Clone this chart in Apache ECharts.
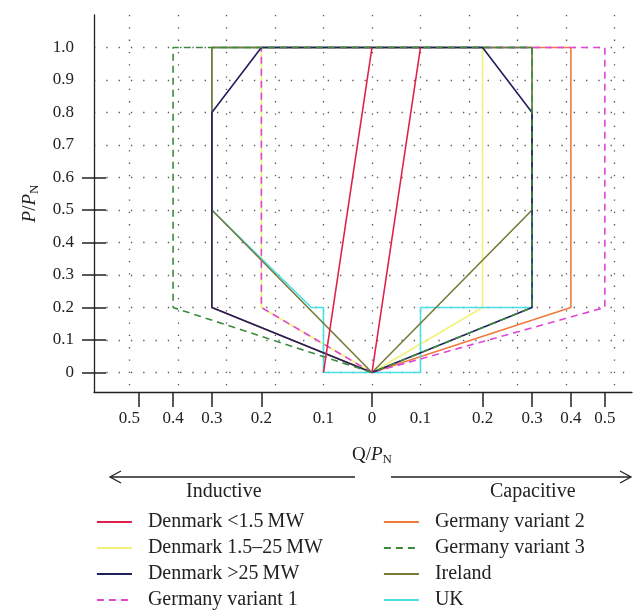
<!DOCTYPE html>
<html>
<head>
<meta charset="utf-8">
<script src="https://cdn.jsdelivr.net/npm/echarts@6/dist/echarts.min.js"></script>
<style>
  html, body { margin: 0; padding: 0; background: #fff; }
  #chart { width: 634px; height: 612px; }
</style>
</head>
<body>
<div id="chart"></div>
<script>
// points are [Q/PN, P/PN]; negative Q = inductive side
const denmarkSmall = [[-0.1, 0], [0, 1.0], ['-', '-'], [0, 0], [0.1, 1.0]];
const denmarkMid = [[0, 0], [-0.228, 0.2], [-0.228, 1.0], [0.228, 1.0], [0.228, 0.2], [0, 0]];
const denmarkLarge = [[0, 0], [-0.33, 0.2], [-0.33, 0.8], [-0.228, 1.0], [0.228, 1.0], [0.33, 0.8], [0.33, 0.2], [0, 0]];
const germany1 = [[0, 0], [-0.228, 0.2], [-0.228, 1.0], [0.48, 1.0], [0.48, 0.2], [0, 0]];
const germany2 = [[0, 0], [-0.33, 0.2], [-0.33, 1.0], [0.41, 1.0], [0.41, 0.2], [0, 0]];
const germany3 = [[0, 0], [-0.41, 0.2], [-0.41, 1.0], [0.33, 1.0], [0.33, 0.2], [0, 0]];
const ireland = [[0, 0], [-0.33, 0.5], [-0.33, 1.0], [0.33, 1.0], [0.33, 0.5], [0, 0]];
const uk = [[-0.33, 1.0], [-0.33, 0.5], [-0.125, 0.2], [-0.1, 0.2], [-0.1, 0], [0.1, 0],
  [0.1, 0.2], [0.33, 0.2], [0.33, 1.0], [-0.33, 1.0]];

// x tick labels sit at the curve corners, not evenly
const xLabelPos = [-0.5, -0.41, -0.33, -0.228, -0.1, 0, 0.1, 0.228, 0.33, 0.41, 0.48];
const xLabelText = ['0.5', '0.4', '0.3', '0.2', '0.1', '0', '0.1', '0.2', '0.3', '0.4', '0.5'];
const xTickPos = [-0.48, -0.41, -0.33, -0.228, 0, 0.228, 0.33, 0.41, 0.48];
const yLabelPos = [0, 0.1, 0.2, 0.3, 0.4, 0.5, 0.6, 0.7, 0.8, 0.9, 1.0];
const yTickPos = [0, 0.1, 0.2, 0.3, 0.4, 0.5, 0.6];

const serif = "'Liberation Serif', 'DejaVu Serif', serif";
const ink = '#222';

const dotted = {
  show: true,
  showMinLine: false,
  showMaxLine: false,
  lineStyle: { color: '#555', width: 1.3, type: [1.3, 11] }
};

const nameRich = {
  u: { fontFamily: serif, fontSize: 19, color: ink },
  i: { fontFamily: serif, fontSize: 19, fontStyle: 'italic', color: ink },
  s: { fontFamily: serif, fontSize: 13, color: ink, padding: [9, 0, 0, 0] }
};

function mkSeries(name, data, color, dashed, z) {
  return {
    name: name,
    type: 'line',
    data: data,
    symbol: 'none',
    z: z,
    connectNulls: false,
    lineStyle: { color: color, width: 1.6, type: dashed ? [7, 5] : 'solid' },
    itemStyle: { color: color },
    animation: false
  };
}

const legendBase = {
  orient: 'vertical',
  top: 512,
  padding: 0,
  itemWidth: 35,
  itemHeight: 14,
  itemGap: 6,
  selectedMode: false,
  itemStyle: { opacity: 0 },
  lineStyle: { width: 1.8 },
  textStyle: { fontFamily: serif, fontSize: 20, color: ink, padding: [0, 0, 0, 11] }
};

const chart = echarts.init(document.getElementById('chart'));
chart.setOption({
  animation: false,
  grid: { left: 94, right: 2, top: 15, bottom: 220 },
  xAxis: [
    {
      type: 'value',
      position: 'bottom',
      min: -0.573,
      max: 0.536,
      axisLine: { show: true, onZero: false, lineStyle: { color: ink, width: 1.3 } },
      axisTick: { show: true, length: 15, customValues: xTickPos, lineStyle: { color: ink, width: 1.5 } },
      axisLabel: {
        customValues: xLabelPos,
        margin: 18,
        fontFamily: serif,
        fontSize: 17,
        color: ink,
        formatter: v => {
          const k = xLabelPos.findIndex(p => Math.abs(p - v) < 1e-6);
          return k < 0 ? '' : xLabelText[k];
        }
      },
      splitLine: { show: false },
      name: '{u|Q}/{i|P}{s|N}',
      nameLocation: 'middle',
      nameGap: 52,
      nameTextStyle: { fontFamily: serif, fontSize: 19, color: ink, rich: nameRich, padding: [0, 0, 0, 18] }
    },
    {
      type: 'value',
      position: 'top',
      min: -0.573,
      max: 0.536,
      minInterval: 0.1,
      maxInterval: 0.1,
      axisLine: { show: false },
      axisTick: { show: false },
      axisLabel: { show: false },
      splitLine: dotted
    }
  ],
  yAxis: [
    {
      type: 'value',
      position: 'left',
      min: -0.06,
      max: 1.1,
      axisLine: { show: true, onZero: false, lineStyle: { color: ink, width: 1.3 } },
      axisTick: { show: true, length: 12, customValues: yTickPos, lineStyle: { color: ink, width: 1.5 } },
      axisLabel: {
        customValues: yLabelPos,
        margin: 20,
        fontFamily: serif,
        fontSize: 17,
        color: ink,
        formatter: v => (Math.abs(v) < 1e-9 ? '0' : v.toFixed(1))
      },
      splitLine: { show: false },
      name: '{i|P}/{i|P}{s|N}',
      nameLocation: 'middle',
      nameRotate: 90,
      nameGap: 53,
      nameTextStyle: { fontFamily: serif, fontSize: 19, color: ink, rich: nameRich }
    },
    {
      type: 'value',
      position: 'left',
      min: -0.06,
      max: 1.1,
      axisLine: { show: false, onZero: false },
      axisTick: { show: true, inside: true, length: 12, customValues: yTickPos, lineStyle: { color: ink, width: 1.5 } },
      axisLabel: { show: false },
      splitLine: { show: false }
    },
    {
      type: 'value',
      position: 'left',
      min: -0.06,
      max: 1.1,
      minInterval: 0.1,
      maxInterval: 0.1,
      axisLine: { show: false, onZero: false },
      axisTick: { show: false },
      axisLabel: { show: false },
      splitLine: dotted
    }
  ],
  legend: [
    Object.assign({}, legendBase, {
      left: 96,
      data: ['Denmark <1.5\u2009MW', 'Denmark 1.5\u201325\u2009MW', 'Denmark >25\u2009MW', 'Germany variant 1']
    }),
    Object.assign({}, legendBase, {
      left: 383,
      data: ['Germany variant 2', 'Germany variant 3', 'Ireland', 'UK']
    })
  ],
  graphic: [
    { type: 'line', shape: { x1: 110, y1: 477, x2: 355, y2: 477 }, style: { stroke: ink, lineWidth: 1.3 } },
    { type: 'polyline', shape: { points: [[121, 471], [110, 477], [121, 483]] }, style: { stroke: ink, lineWidth: 1.3, fill: null } },
    { type: 'line', shape: { x1: 391, y1: 477, x2: 631, y2: 477 }, style: { stroke: ink, lineWidth: 1.3 } },
    { type: 'polyline', shape: { points: [[620, 471], [631, 477], [620, 483]] }, style: { stroke: ink, lineWidth: 1.3, fill: null } },
    { type: 'text', left: 186, top: 482, style: { text: 'Inductive', font: "20px 'Liberation Serif', serif", fill: ink } },
    { type: 'text', left: 490, top: 482, style: { text: 'Capacitive', font: "20px 'Liberation Serif', serif", fill: ink } }
  ],
  series: [
    mkSeries('Denmark <1.5\u2009MW', denmarkSmall, '#e0204c', false, 9),
    mkSeries('Denmark 1.5\u201325\u2009MW', denmarkMid, '#f2f27a', false, 3),
    mkSeries('Denmark >25\u2009MW', denmarkLarge, '#1f1f5e', false, 7),
    mkSeries('Germany variant 1', germany1, '#e046d8', true, 6),
    mkSeries('Germany variant 2', germany2, '#f07a3c', false, 2),
    mkSeries('Germany variant 3', germany3, '#3c8a3c', true, 8),
    mkSeries('Ireland', ireland, '#7a7a38', false, 5),
    mkSeries('UK', uk, '#46e0e6', false, 4)
  ]
});
</script>
</body>
</html>
